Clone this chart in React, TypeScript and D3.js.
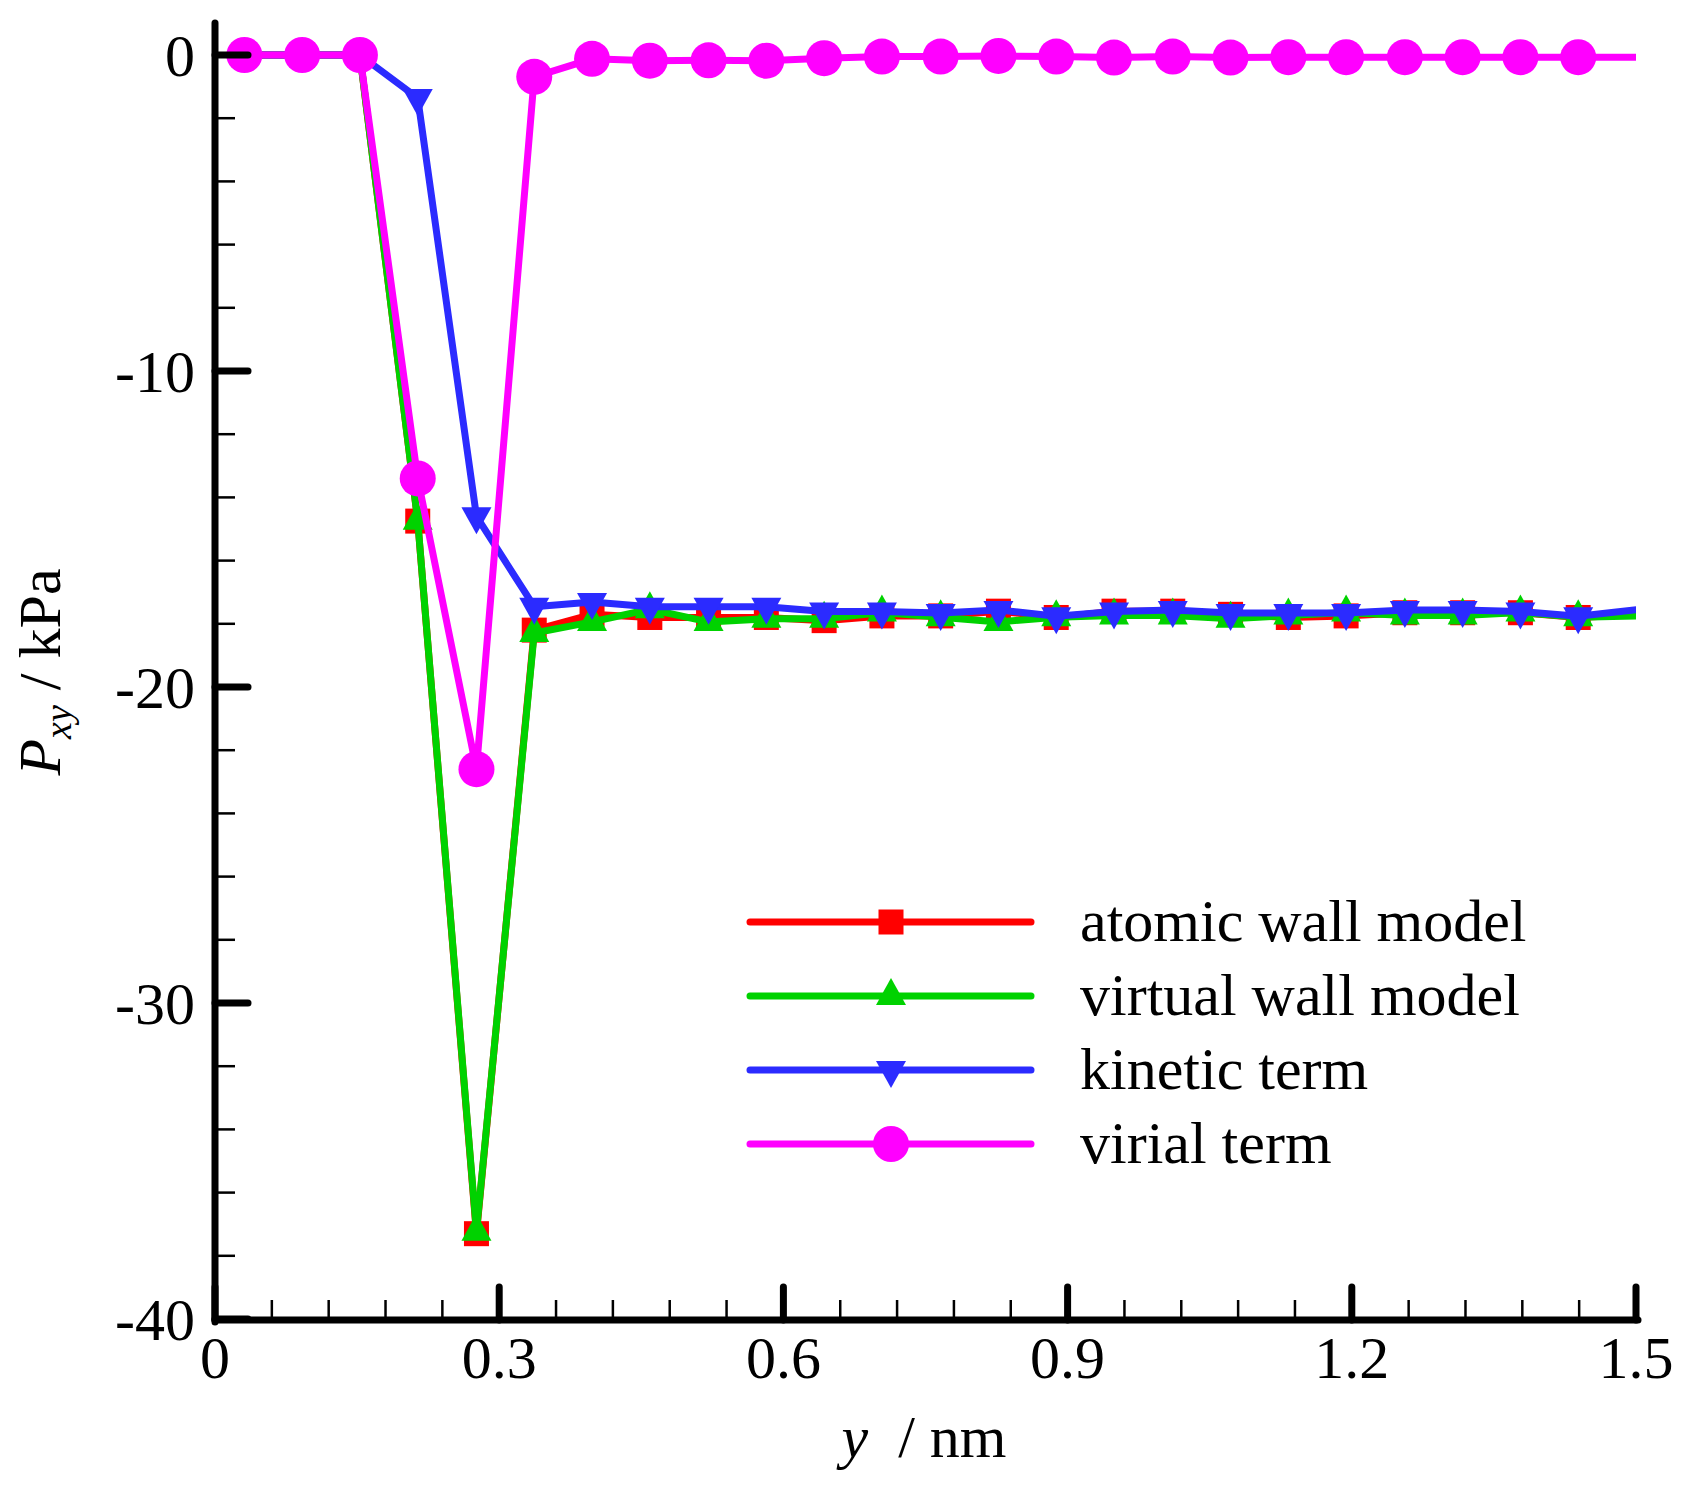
import React from 'react';
import * as d3 from 'd3';

// y positions (nm), bin centres
const yPos = [
  0.031, 0.092, 0.153, 0.214, 0.276, 0.337, 0.398, 0.459, 0.521, 0.582, 0.643, 0.704, 0.766,
  0.827, 0.888, 0.949, 1.011, 1.072, 1.133, 1.194, 1.256, 1.317, 1.378, 1.439, 1.501,
];

const atomicWall = [
  0, 0, 0, -14.75, -37.3, -18.2, -17.7, -17.8, -17.8, -17.8, -17.9, -17.75, -17.75,
  -17.6, -17.8, -17.6, -17.6, -17.7, -17.8, -17.75, -17.65, -17.65, -17.65, -17.8, -17.7,
];
const virtualWall = [
  0, 0, 0, -14.74, -37.24, -18.29, -17.94, -17.54, -17.94, -17.84, -17.84, -17.64, -17.79,
  -17.94, -17.79, -17.74, -17.74, -17.84, -17.74, -17.64, -17.74, -17.74, -17.64, -17.79, -17.75,
];
const kineticTerm = [
  0, 0, 0, -1.36, -14.6, -17.46, -17.31, -17.46, -17.46, -17.46, -17.61, -17.61, -17.66,
  -17.56, -17.76, -17.61, -17.56, -17.66, -17.66, -17.66, -17.56, -17.56, -17.61, -17.76, -17.55,
];
const virialTerm = [
  0, 0, 0, -13.4, -22.6, -0.69, -0.12, -0.18, -0.17, -0.18, -0.1, -0.05, -0.05,
  -0.03, -0.05, -0.08, -0.05, -0.08, -0.07, -0.07, -0.07, -0.07, -0.07, -0.07, -0.07,
];

const seriesNames = ['atomic wall model', 'virtual wall model', 'kinetic term', 'virial term'];
const seriesColors = ['#ff0000', '#00d200', '#2b2bff', '#ff00ff'];
const seriesMarkers = ['square', 'triUp', 'triDown', 'circle'];
const seriesValues = [atomicWall, virtualWall, kineticTerm, virialTerm];

const xMajor = [0, 0.3, 0.6, 0.9, 1.2, 1.5];
const xLabels = ['0', '0.3', '0.6', '0.9', '1.2', '1.5'];
const yMajor = [0, -10, -20, -30, -40];
const yLabels = ['0', '-10', '-20', '-30', '-40'];

const W = 1686;
const H = 1486;
const left = 215;
const right = 1636;
const top = 55;
const bottom = 1319;
const FONT = "'Liberation Serif', 'Times New Roman', serif";

const x = d3.scaleLinear().domain([0, 1.5]).range([left, right]);
const y = d3.scaleLinear().domain([-40, 0]).range([bottom, top]);

const Marker: React.FC<{ kind: string; cx: number; cy: number; color: string }> = ({ kind, cx, cy, color }) => {
  if (kind === 'square') {
    return <rect x={cx - 12.5} y={cy - 12.5} width={25} height={25} fill={color} />;
  }
  if (kind === 'circle') {
    return <circle cx={cx} cy={cy} r={18} fill={color} />;
  }
  // triangles centred on their centroid
  const w = 15;
  const h = 27;
  const d =
    kind === 'triUp'
      ? `M${cx - w},${cy + h / 3}L${cx + w},${cy + h / 3}L${cx},${cy - (2 * h) / 3}Z`
      : `M${cx - w},${cy - h / 3}L${cx + w},${cy - h / 3}L${cx},${cy + (2 * h) / 3}Z`;
  return <path d={d} fill={color} />;
};

const App: React.FC = () => {
  const line = d3
    .line<number>()
    .x((_, i) => x(yPos[i]))
    .y((v) => y(v));

  const xMinor = d3.range(0, 1.5001, 0.06).filter((t) => !xMajor.some((m) => Math.abs(m - t) < 1e-6));
  const yMinor = d3.range(0, -40.001, -2).filter((t) => !yMajor.some((m) => Math.abs(m - t) < 1e-6));

  const legendX0 = 750;
  const legendX1 = 1031;
  const legendMarkX = 891;
  const legendTextX = 1080;
  const legendRows = [922, 996, 1070, 1144];

  return (
    <svg
      width={W}
      height={H}
      viewBox={`0 0 ${W} ${H}`}
      style={{ position: 'absolute', left: 0, top: 0, background: '#fff' }}
      fontFamily={FONT}
    >
      <defs>
        <clipPath id="plotClip">
          <rect x={left - 40} y={0} width={right - left + 40} height={bottom + 40} />
        </clipPath>
      </defs>
      <rect width={W} height={H} fill="#fff" />

      {/* Series */}
      <g clipPath="url(#plotClip)">
        {seriesValues.map((vals, s) => (
          <g key={seriesNames[s]}>
            <path d={line(vals) || ''} fill="none" stroke={seriesColors[s]} strokeWidth={7} strokeLinejoin="round" />
            {vals.map((v, i) =>
              yPos[i] <= 1.5 ? (
                <Marker key={i} kind={seriesMarkers[s]} cx={x(yPos[i])} cy={y(v)} color={seriesColors[s]} />
              ) : null
            )}
          </g>
        ))}
      </g>

      {/* Axes */}
      <g stroke="#000" strokeLinecap="round">
        <line x1={left} x2={left} y1={23} y2={bottom + 3} strokeWidth={7} />
        <line x1={left} x2={right + 2} y1={bottom + 1} y2={bottom + 1} strokeWidth={7} />
        {yMajor.map((t) => (
          <line key={`ym${t}`} x1={left} x2={left + 33} y1={y(t)} y2={y(t)} strokeWidth={7} />
        ))}
        {yMinor.map((t) => (
          <line key={`yn${t}`} x1={left} x2={left + 20} y1={y(t)} y2={y(t)} strokeWidth={2.5} strokeLinecap="butt" />
        ))}
        {xMajor.map((t) => (
          <line key={`xm${t}`} x1={x(t)} x2={x(t)} y1={bottom + 1} y2={bottom - 32} strokeWidth={7} />
        ))}
        {xMinor.map((t) => (
          <line key={`xn${t}`} x1={x(t)} x2={x(t)} y1={bottom + 1} y2={bottom - 19} strokeWidth={2.5} strokeLinecap="butt" />
        ))}
      </g>

      {/* Tick labels */}
      {yMajor.map((t, i) => (
        <text key={`yl${t}`} x={195} y={y(t) + 21} textAnchor="end" fontSize={60}>
          {yLabels[i]}
        </text>
      ))}
      {xMajor.map((t, i) => (
        <text key={`xl${t}`} x={x(t)} y={1378} textAnchor="middle" fontSize={60}>
          {xLabels[i]}
        </text>
      ))}

      {/* Axis titles */}
      <text x={924} y={1457} textAnchor="middle" fontSize={60} xmlSpace="preserve">
        <tspan fontStyle="italic">y</tspan>
        <tspan>{'  / nm'}</tspan>
      </text>
      <text transform={`translate(60, 672) rotate(-90)`} textAnchor="middle" fontSize={60}>
        <tspan fontStyle="italic">P</tspan>
        <tspan fontStyle="italic" fontSize={38} dy={11}>xy</tspan>
        <tspan dy={-11}>{' / kPa'}</tspan>
      </text>

      {/* Legend */}
      {seriesNames.map((name, s) => (
        <g key={`lg${name}`}>
          <line
            x1={legendX0}
            x2={legendX1}
            y1={legendRows[s]}
            y2={legendRows[s]}
            stroke={seriesColors[s]}
            strokeWidth={7}
            strokeLinecap="round"
          />
          <Marker kind={seriesMarkers[s]} cx={legendMarkX} cy={legendRows[s]} color={seriesColors[s]} />
          <text x={legendTextX} y={legendRows[s] + 19} fontSize={60}>
            {name}
          </text>
        </g>
      ))}
    </svg>
  );
};

export default App;
